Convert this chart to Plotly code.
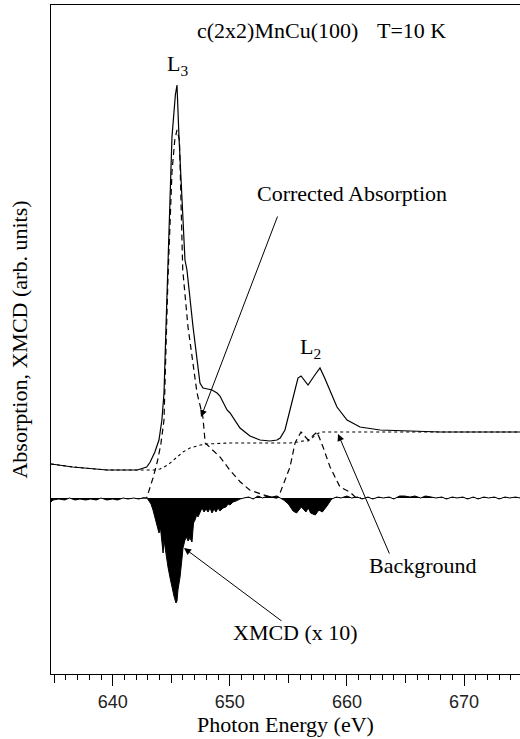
import plotly.graph_objects as go

# ---------------- data ----------------
energy_abs = [634.73, 636.6, 639.5, 642.1, 642.9, 643.2, 643.6, 643.95, 644.2, 644.38,
              644.55, 644.72, 645.06, 645.35, 645.49, 645.66, 645.92, 646.17, 646.34, 646.86,
              647.45, 647.71, 648.1, 648.48, 648.91, 649.16, 649.76, 650.02, 650.87, 651.72,
              652.58, 653.43, 654.03, 654.3, 654.71, 655.1, 655.4, 655.82, 656.08, 656.68,
              657.2, 657.7, 658.1, 658.56, 659.15, 660.01, 661.12, 662.83, 665.0, 668.0, 674.78]
absorption = [0.34, 0.31, 0.28, 0.28, 0.31, 0.36, 0.46, 0.58, 0.78, 1.05,
              1.71, 2.38, 3.61, 4.03, 4.13, 3.61, 2.95, 2.38, 2.28, 1.71,
              1.15, 1.10, 1.09, 1.08, 1.05, 1.02, 0.88, 0.85, 0.70, 0.62,
              0.58, 0.57, 0.58, 0.60, 0.68, 0.86, 0.98, 1.20, 1.22, 1.13,
              1.22, 1.30, 1.20, 1.08, 0.91, 0.78, 0.71, 0.68, 0.67, 0.66, 0.66]

energy_bg = [634.73, 636.6, 639.5, 642.1, 643.6, 644.04, 644.7, 645.5, 646.0, 646.6,
             647.5, 648.05, 650.0, 653.0, 655.1, 655.8, 656.25, 656.68, 657.1, 657.45,
             657.8, 659.2, 665.0, 674.78]
background = [0.34, 0.31, 0.28, 0.28, 0.28, 0.29, 0.33, 0.41, 0.46, 0.50,
              0.53, 0.54, 0.55, 0.55, 0.55, 0.56, 0.57, 0.57, 0.61, 0.64,
              0.66, 0.66, 0.66, 0.66]

energy_corr = [642.5, 642.9, 643.44, 643.8, 644.1, 644.38, 644.55, 644.72, 645.06, 645.3,
               645.49, 645.7, 645.98, 646.43, 647.2, 647.7, 647.9, 648.5, 649.16, 650.0,
               650.9, 651.7, 652.6, 653.4, 654.0, 654.29, 655.14, 655.57, 656.08, 656.68,
               657.45, 657.96, 658.56, 659.41, 660.26, 660.7, 661.2]
corrected = [0.0, 0.0, 0.20, 0.36, 0.53, 0.78, 1.50, 2.20, 3.26, 3.58,
             3.68, 3.58, 2.28, 1.71, 1.05, 0.81, 0.55, 0.48, 0.41, 0.28,
             0.16, 0.08, 0.04, 0.01, 0.0, 0.05, 0.31, 0.55, 0.66, 0.58,
             0.66, 0.51, 0.31, 0.11, 0.06, 0.01, 0.0]

energy_xmcd = [634.73, 634.9, 635.4, 635.9, 636.3, 636.8, 637.2, 637.7, 638.1, 638.6,
               639.0, 639.5, 640.0, 640.4, 640.9, 641.3, 641.8, 642.2, 642.6,
               642.93, 643.1, 643.27, 643.44, 643.61, 643.78, 643.95, 644.08, 644.21, 644.3,
               644.38, 644.55, 644.72, 644.9, 645.06, 645.23, 645.4, 645.49, 645.57, 645.75,
               645.92, 646.0, 646.17, 646.34, 646.43, 646.6, 646.77, 646.9, 647.03, 647.2,
               647.28, 647.45, 647.63, 647.8, 647.97, 648.14, 648.31, 648.48, 648.65, 648.82,
               648.99, 649.16, 649.42, 649.67, 649.85, 650.02, 650.27, 650.53, 650.87, 651.2,
               651.6, 652.0, 652.4, 652.8, 653.2, 653.6, 654.0, 654.3,
               654.6, 655.0, 655.4, 655.7, 656.1, 656.5, 656.7, 656.9, 657.3, 657.6,
               657.9, 658.3, 658.7,
               659.1, 659.5, 660.0, 660.4, 660.9, 661.3, 661.8, 662.2, 662.7, 663.1,
               663.6, 664.0, 664.5, 664.9, 665.4, 665.8, 666.3, 666.7, 667.2, 667.6,
               668.1, 668.5, 669.0, 669.4, 669.9, 670.3, 670.8, 671.2, 671.7, 672.1,
               672.6, 673.0, 673.5, 673.9, 674.4, 674.78]
xmcd = [-0.04, -0.02, -0.01, -0.02, 0.00, -0.02, -0.01, -0.02, -0.01, -0.02,
        0.00, -0.02, -0.01, -0.02, 0.00, -0.01, 0.00, -0.01, 0.00,
        0.0, -0.03, -0.06, -0.12, -0.20, -0.27, -0.35, -0.30, -0.45, -0.55,
        -0.42, -0.58, -0.69, -0.80, -0.90, -0.98, -1.05, -1.03, -0.92, -0.79,
        -0.60, -0.50, -0.42, -0.39, -0.43, -0.40, -0.44, -0.25, -0.22, -0.16,
        -0.19, -0.14, -0.10, -0.14, -0.11, -0.14, -0.10, -0.15, -0.11, -0.14,
        -0.10, -0.13, -0.10, -0.09, -0.06, -0.07, -0.04, -0.03, -0.01, 0.0,
        0.01, -0.01, 0.02, 0.00, 0.02, 0.01, 0.02, 0.00,
        -0.02, -0.06, -0.13, -0.15, -0.09, -0.14, -0.10, -0.15, -0.17, -0.12,
        -0.14, -0.08, -0.01,
        0.01, 0.00, 0.02, 0.00, 0.01, -0.01, 0.01, -0.01, 0.01, 0.00,
        0.01, -0.01, 0.02, 0.02, 0.01, 0.02, 0.00, 0.02, 0.01, 0.00,
        0.01, -0.01, 0.01, 0.00, 0.01, -0.01, 0.01, -0.01, 0.01, 0.00,
        0.01, -0.01, 0.01, 0.00, 0.01, 0.00]

major_ticks = [640, 650, 660, 670]
mid_ticks = [635, 645, 655, 665, 675]
x_range = [634.73, 674.78]
y_range = [-1.76, 4.93]

SERIF = "Liberation Serif, Times New Roman, serif"
SANS = "Liberation Sans, Arial, sans-serif"

fig = go.Figure()
fig.add_trace(go.Scatter(x=energy_xmcd, y=xmcd, mode="lines", fill="tozeroy",
                         fillcolor="black", line=dict(color="black", width=1),
                         name="XMCD (x 10)", hoverinfo="skip"))
fig.add_trace(go.Scatter(x=energy_bg, y=background, mode="lines",
                         line=dict(color="black", width=1.1, dash="3px,3px"),
                         name="Background", hoverinfo="skip"))
fig.add_trace(go.Scatter(x=energy_corr, y=corrected, mode="lines",
                         line=dict(color="black", width=1.2, dash="6px,4px"),
                         name="Corrected Absorption", hoverinfo="skip"))
fig.add_trace(go.Scatter(x=energy_abs, y=absorption, mode="lines",
                         line=dict(color="black", width=1.2),
                         name="Absorption", hoverinfo="skip"))
# invisible trace to carry the labelled tick axis
fig.add_trace(go.Scatter(x=[major_ticks[0]], y=[0], xaxis="x2", mode="markers",
                         marker=dict(opacity=0), hoverinfo="skip", showlegend=False))

ann = []
def label(x, y, text, size=22):
    ann.append(dict(x=x, y=y, xref="x", yref="y", text=text, showarrow=False,
                    font=dict(family=SERIF, size=size, color="black"),
                    xanchor="center", yanchor="middle"))

def arrow(x_tip, y_tip, x_tail, y_tail):
    ann.append(dict(x=x_tip, y=y_tip, ax=x_tail, ay=y_tail, xref="x", yref="y",
                    axref="x", ayref="y", text="", showarrow=True,
                    arrowhead=2, arrowsize=1.4, arrowwidth=1, arrowcolor="black"))

label(654.06, 4.68, "c(2x2)MnCu(100)")
label(665.52, 4.68, "T=10 K")
label(645.49, 4.33, "L<sub>3</sub>")
label(660.43, 3.05, "Corrected Absorption")
label(656.85, 1.50, "L<sub>2</sub>")
label(666.5, -0.67, "Background")
label(655.57, -1.34, "XMCD (x 10)")
arrow(647.54, 0.81, 654.12, 2.83)
arrow(659.24, 0.64, 663.68, -0.57)
arrow(646.09, -0.50, 654.54, -1.24)

fig.update_layout(
    width=520, height=739,
    margin=dict(l=51, r=0, t=5, b=65),
    paper_bgcolor="white", plot_bgcolor="white",
    showlegend=False,
    annotations=ann,
    xaxis=dict(range=x_range, showgrid=False, zeroline=False,
               showline=True, linecolor="black", linewidth=1, mirror=True,
               ticks="outside", tickvals=mid_ticks, ticklen=8, tickcolor="black",
               showticklabels=False,
               minor=dict(dtick=1, tick0=635, ticks="outside", ticklen=5,
                          tickcolor="black", showgrid=False)),
    xaxis2=dict(range=x_range, overlaying="x", anchor="y", side="bottom",
                showgrid=False, zeroline=False, showline=False,
                ticks="outside", tickvals=major_ticks, ticklen=11, tickcolor="black",
                tickfont=dict(family=SANS, size=18, color="#222"),
                title=dict(text="Photon Energy (eV)", standoff=4,
                           font=dict(family=SERIF, size=22, color="black"))),
    yaxis=dict(range=y_range, showgrid=False, zeroline=False,
               showline=True, linecolor="black", linewidth=1,
               ticks="", showticklabels=False,
               title=dict(text="Absorption, XMCD (arb. units)", standoff=16,
                          font=dict(family=SERIF, size=22, color="black"))),
)

fig.write_html("out.html")
